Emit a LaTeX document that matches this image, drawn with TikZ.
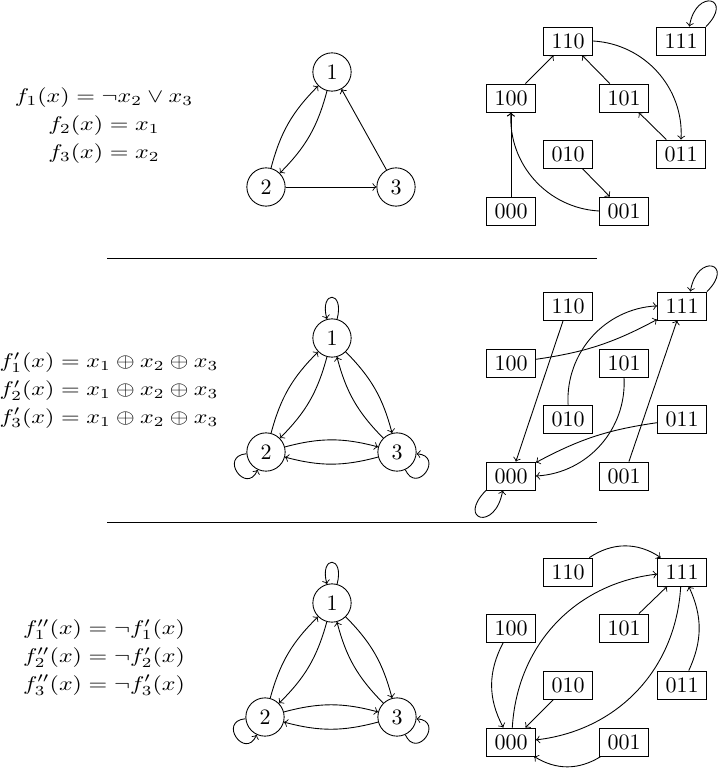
\documentclass[tikz,border=0pt]{standalone}
\usepackage{amsmath}
\begin{document}
\begin{tikzpicture}[x=0.4545pt,y=0.4545pt,
  st/.style={draw, rectangle, minimum width=22.3pt, minimum height=12.7pt, inner sep=0pt},
  vx/.style={draw, circle, minimum size=17.4pt, inner sep=0pt},
  ar/.style={->},
  eqn/.style={inner sep=0pt}]
\def\arraystretch{1.16}
\clip (0,0) rectangle (720,-769);
% ---------------- top row ----------------
\node[eqn] (e1) at (104,-125) {\scalebox{1.09}[0.9]{\begin{tabular}{@{}c@{}}$f_1(x) = \neg x_2 \vee x_3$\\ $f_2(x) = x_1$\\ $f_3(x) = x_2$\end{tabular}}};
\node[vx] (a1) at (332,-72) {1};
\node[vx] (a2) at (266,-187) {2};
\node[vx] (a3) at (396,-187) {3};
\draw[ar] (a2) to[bend left=15] (a1);
\draw[ar] (a1) to[bend left=15] (a2);
\draw[ar] (a2) -- (a3);
\draw[ar] (a3) -- (a1);
\node[st] (t110) at (568,-41) {110};
\node[st] (t111) at (681,-41) {111};
\node[st] (t100) at (511,-98) {100};
\node[st] (t101) at (624,-98) {101};
\node[st] (t010) at (568,-154) {010};
\node[st] (t011) at (681,-154) {011};
\node[st] (t000) at (511,-211) {000};
\node[st] (t001) at (624,-211) {001};
\draw[ar] (t000) -- (t100);
\draw[ar] (t001) to[bend left=45] (t100);
\draw[ar] (t010) -- (t001);
\draw[ar] (t011) -- (t101);
\draw[ar] (t100) -- (t110);
\draw[ar] (t101) -- (t110);
\draw[ar] (t110) to[bend left=45] (t011);
\draw[ar] (t111.30) .. controls +(45:40) and +(80:40) .. (t111.60);
% separators
\coordinate (s1a) at (107,-258); \coordinate (s1b) at (597,-258);
\coordinate (s2a) at (107,-522); \coordinate (s2b) at (597,-522);
\draw (s1a) -- (s1b);
\draw (s2a) -- (s2b);
% ---------------- middle row ----------------
\node[eqn] (e2) at (109,-390) {\scalebox{1.09}[0.9]{\begin{tabular}{@{}c@{}}$f'_1(x) = x_1 \oplus x_2 \oplus x_3$\\ $f'_2(x) = x_1 \oplus x_2 \oplus x_3$\\ $f'_3(x) = x_1 \oplus x_2 \oplus x_3$\end{tabular}}};
\node[vx] (m1) at (332,-338) {1};
\node[vx] (m2) at (266,-452) {2};
\node[vx] (m3) at (397,-452) {3};
\draw[ar] (m2) to[bend left=15] (m1);
\draw[ar] (m1) to[bend left=15] (m2);
\draw[ar] (m1) to[bend left=15] (m3);
\draw[ar] (m3) to[bend left=15] (m1);
\draw[ar] (m2) to[bend left=15] (m3);
\draw[ar] (m3) to[bend left=15] (m2);
\draw[ar] (m1.75) .. controls +(75:30) and +(105:30) .. (m1.105);
\draw[ar] (m2.185) .. controls +(185:28) and +(245:28) .. (m2.245);
\draw[ar] (m3.295) .. controls +(295:28) and +(355:28) .. (m3.355);
\node[st] (m110) at (568,-306) {110};
\node[st] (m111) at (682,-306) {111};
\node[st] (m100) at (511,-363) {100};
\node[st] (m101) at (624,-363) {101};
\node[st] (m010) at (568,-419) {010};
\node[st] (m011) at (682,-419) {011};
\node[st] (m000) at (511,-476) {000};
\node[st] (m001) at (624,-476) {001};
\draw[ar] (m000.210) .. controls +(225:42) and +(260:42) .. (m000.240);
\draw[ar] (m001) -- (m111);
\draw[ar] (m010) to[bend left=45] (m111);
\draw[ar] (m011) to[bend right=10] (m000);
\draw[ar] (m100) to[bend right=10] (m111);
\draw[ar] (m101) to[bend left=45] (m000);
\draw[ar] (m110) -- (m000);
\draw[ar] (m111.30) .. controls +(45:40) and +(80:40) .. (m111.60);
% ---------------- bottom row ----------------
\node[eqn] (e3) at (104,-657) {\scalebox{1.09}[0.9]{\begin{tabular}{@{}c@{}}$f''_1(x) = \neg f'_1(x)$\\ $f''_2(x) = \neg f'_2(x)$\\ $f''_3(x) = \neg f'_3(x)$\end{tabular}}};
\node[vx] (b1) at (332,-603) {1};
\node[vx] (b2) at (265,-717) {2};
\node[vx] (b3) at (397,-717) {3};
\draw[ar] (b2) to[bend left=15] (b1);
\draw[ar] (b1) to[bend left=15] (b2);
\draw[ar] (b1) to[bend left=15] (b3);
\draw[ar] (b3) to[bend left=15] (b1);
\draw[ar] (b2) to[bend left=15] (b3);
\draw[ar] (b3) to[bend left=15] (b2);
\draw[ar] (b1.75) .. controls +(75:30) and +(105:30) .. (b1.105);
\draw[ar] (b2.185) .. controls +(185:28) and +(245:28) .. (b2.245);
\draw[ar] (b3.295) .. controls +(295:28) and +(355:28) .. (b3.355);
\node[st] (b110) at (568,-572) {110};
\node[st] (b111) at (682,-572) {111};
\node[st] (b100) at (511,-628) {100};
\node[st] (b101) at (624,-628) {101};
\node[st] (b010) at (568,-685) {010};
\node[st] (b011) at (682,-685) {011};
\node[st] (b000) at (511,-742) {000};
\node[st] (b001) at (624,-742) {001};
\draw[ar] (b000) to[bend left=40] (b111);
\draw[ar] (b001) to[bend left=32] (b000);
\draw[ar] (b010) -- (b000);
\draw[ar] (b011) to[bend right=25] (b111);
\draw[ar] (b100) to[bend right=28] (b000);
\draw[ar] (b101) -- (b111);
\draw[ar] (b110) to[bend left=34] (b111);
\draw[ar] (b111) to[bend left=40] (b000);
\end{tikzpicture}
\end{document}
